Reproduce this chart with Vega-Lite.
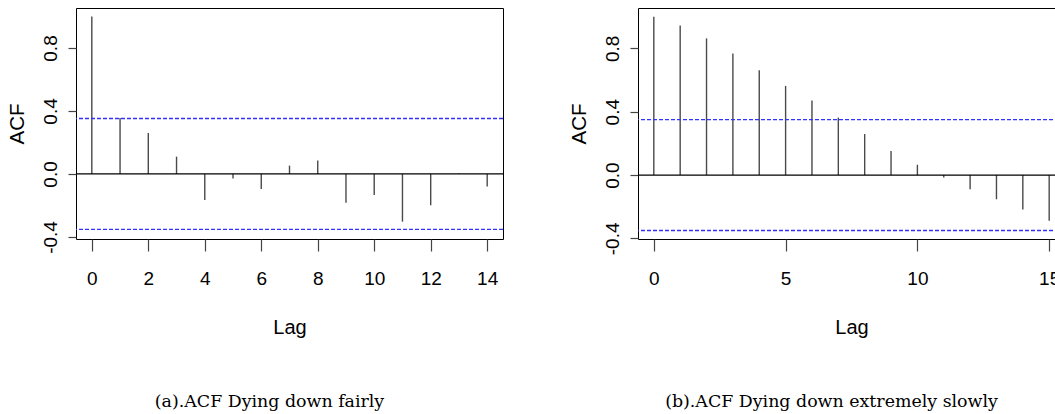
{
  "$schema": "https://vega.github.io/schema/vega-lite/v6.json",
  "background": "white",
  "padding": {"left": 7, "top": 7, "right": 0, "bottom": 0},
  "bounds": "flush",
  "spacing": 135,
  "datasets": {
    "acfA": [
      {"lag": 0, "acf": 1.0}, {"lag": 1, "acf": 0.356}, {"lag": 2, "acf": 0.26}, {"lag": 3, "acf": 0.11},
      {"lag": 4, "acf": -0.165}, {"lag": 5, "acf": -0.028}, {"lag": 6, "acf": -0.095}, {"lag": 7, "acf": 0.053},
      {"lag": 8, "acf": 0.085}, {"lag": 9, "acf": -0.182}, {"lag": 10, "acf": -0.133}, {"lag": 11, "acf": -0.303},
      {"lag": 12, "acf": -0.199}, {"lag": 13, "acf": 0.003}, {"lag": 14, "acf": -0.079}
    ],
    "acfB": [
      {"lag": 0, "acf": 1.0}, {"lag": 1, "acf": 0.945}, {"lag": 2, "acf": 0.863}, {"lag": 3, "acf": 0.768},
      {"lag": 4, "acf": 0.662}, {"lag": 5, "acf": 0.563}, {"lag": 6, "acf": 0.47}, {"lag": 7, "acf": 0.363},
      {"lag": 8, "acf": 0.259}, {"lag": 9, "acf": 0.152}, {"lag": 10, "acf": 0.065}, {"lag": 11, "acf": -0.015},
      {"lag": 12, "acf": -0.089}, {"lag": 13, "acf": -0.153}, {"lag": 14, "acf": -0.218}, {"lag": 15, "acf": -0.289}
    ],
    "ciA": [{"ci": 0.352}, {"ci": -0.352}],
    "ciB": [{"ci": 0.35}, {"ci": -0.35}]
  },
  "config": {
    "view": {"stroke": "#000", "strokeWidth": 1},
    "axis": {
      "grid": false,
      "domain": false,
      "tickColor": "#444",
      "tickWidth": 1.2,
      "labelColor": "#000",
      "titleColor": "#000",
      "titleFontWeight": "normal",
      "labelOverlap": false,
      "labelBound": false,
      "labelFlush": false
    },
    "axisX": {
      "tickSize": 12,
      "labelFont": "Liberation Sans, Arial, sans-serif",
      "labelFontSize": 19,
      "labelBaseline": "alphabetic",
      "labelPadding": 33,
      "titleFont": "Liberation Sans, Arial, sans-serif",
      "titleFontSize": 20,
      "titleBaseline": "alphabetic",
      "titleY": 94.4
    },
    "axisY": {
      "tickSize": 8,
      "labelFont": "Liberation Sans, Arial, sans-serif",
      "labelFontSize": 19,
      "labelAngle": 270,
      "labelAlign": "center",
      "labelBaseline": "alphabetic",
      "labelPadding": 11.6,
      "titleFont": "Liberation Sans, Arial, sans-serif",
      "titleFontSize": 20.5,
      "titleBaseline": "alphabetic",
      "titleX": -52.3
    },
    "title": {
      "font": "DejaVu Serif",
      "fontSize": 17.4,
      "fontWeight": "normal",
      "color": "#000"
    }
  },
  "hconcat": [
    {
      "width": 427,
      "height": 231,
      "title": {"text": "(a).ACF Dying down fairly", "orient": "bottom", "anchor": "middle", "frame": "group", "dx": -20, "offset": 70, "baseline": "alphabetic"},
      "layer": [
        {
          "data": {"name": "acfA"},
          "mark": {"type": "rule", "color": "#4a4a4a", "strokeWidth": 1.4},
          "encoding": {
            "x": {"field": "lag", "type": "quantitative", "title": "Lag",
                  "scale": {"domain": [-0.56, 14.56], "nice": false, "zero": false},
                  "axis": {"values": [0, 2, 4, 6, 8, 10, 12, 14], "format": "d"}},
            "y": {"field": "acf", "type": "quantitative", "title": "ACF",
                  "scale": {"domain": [-0.413, 1.054], "nice": false},
                  "axis": {"values": [-0.4, -0.2, 0, 0.2, 0.4, 0.6, 0.8, 1.0],
                           "labelExpr": "abs(round(datum.value*10)) % 4 == 0 ? replace(format(datum.value, '.1f'), '\u2212', '-') : ''"}},
            "y2": {"datum": 0}
          }
        },
        {
          "data": {"values": [{"z": 0}]},
          "mark": {"type": "rule", "color": "#000", "strokeWidth": 1.2},
          "encoding": {"y": {"field": "z", "type": "quantitative"}}
        },
        {
          "data": {"name": "ciA"},
          "mark": {"type": "rule", "color": "#3333ff", "strokeWidth": 1.4, "strokeDash": [4, 2]},
          "encoding": {"y": {"field": "ci", "type": "quantitative"}}
        }
      ]
    },
    {
      "width": 427,
      "height": 231,
      "title": {"text": "(b).ACF Dying down extremely slowly", "orient": "bottom", "anchor": "middle", "frame": "group", "dx": -20, "offset": 70, "baseline": "alphabetic"},
      "layer": [
        {
          "data": {"name": "acfB"},
          "mark": {"type": "rule", "color": "#4a4a4a", "strokeWidth": 1.4},
          "encoding": {
            "x": {"field": "lag", "type": "quantitative", "title": "Lag",
                  "scale": {"domain": [-0.6, 15.6], "nice": false, "zero": false},
                  "axis": {"values": [0, 5, 10, 15], "format": "d"}},
            "y": {"field": "acf", "type": "quantitative", "title": "ACF",
                  "scale": {"domain": [-0.404, 1.055], "nice": false},
                  "axis": {"values": [-0.4, -0.2, 0, 0.2, 0.4, 0.6, 0.8, 1.0],
                           "labelExpr": "abs(round(datum.value*10)) % 4 == 0 ? replace(format(datum.value, '.1f'), '\u2212', '-') : ''"}},
            "y2": {"datum": 0}
          }
        },
        {
          "data": {"values": [{"z": 0}]},
          "mark": {"type": "rule", "color": "#000", "strokeWidth": 1.2},
          "encoding": {"y": {"field": "z", "type": "quantitative"}}
        },
        {
          "data": {"name": "ciB"},
          "mark": {"type": "rule", "color": "#3333ff", "strokeWidth": 1.4, "strokeDash": [4, 2]},
          "encoding": {"y": {"field": "ci", "type": "quantitative"}}
        }
      ]
    }
  ]
}
